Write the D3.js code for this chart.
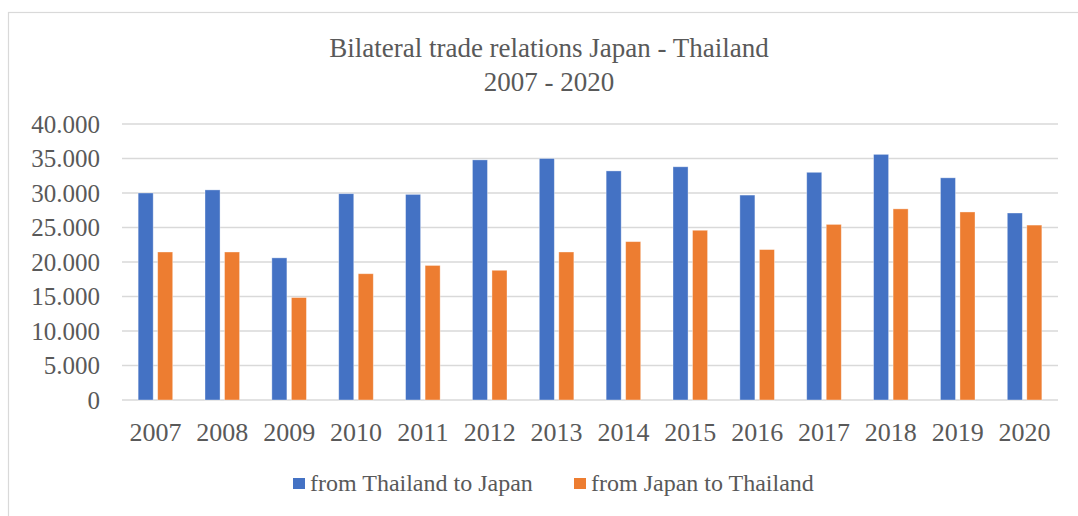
<!DOCTYPE html>
<html>
<head>
<meta charset="utf-8">
<script src="https://cdn.jsdelivr.net/npm/d3@7"></script>
<style>
  html, body { margin: 0; padding: 0; background: #fff; }
  svg { display: block; }
  text { font-family: "Liberation Serif", "Times New Roman", serif; fill: #595959; }
</style>
</head>
<body>
<svg id="chart" width="1078" height="516"></svg>
<script>
const years = ["2007","2008","2009","2010","2011","2012","2013","2014","2015","2016","2017","2018","2019","2020"];
const thailandToJapan = [30000, 30450, 20600, 29900, 29800, 34800, 35000, 33200, 33800, 29700, 33000, 35600, 32200, 27100];
const japanToThailand = [21450, 21450, 14850, 18300, 19500, 18800, 21450, 22950, 24600, 21800, 25450, 27700, 27250, 25350];
const seriesNames = ["from Thailand to Japan", "from Japan to Thailand"];
const seriesColors = ["#4472C4", "#ED7D31"];
const yTicks = [0, 5000, 10000, 15000, 20000, 25000, 30000, 35000, 40000];
const titleLines = ["Bilateral trade relations Japan - Thailand", "2007 - 2020"];

const svg = d3.select("#chart");
const W = 1078, H = 516;
const plot = { left: 122, right: 1058, top: 124, bottom: 400 };

const locale = d3.formatLocale({ decimal: ",", thousands: ".", grouping: [3], currency: ["", ""] });
const fmt = locale.format(",");

// chart frame
svg.append("rect")
  .attr("x", 8.5).attr("y", 12.5)
  .attr("width", W + 20).attr("height", H + 20)
  .attr("fill", "#fff").attr("stroke", "#d9d9d9").attr("stroke-width", 1.2);

// title
const title = svg.append("text").attr("text-anchor", "middle").style("font-size", "27px");
titleLines.forEach((t, i) => {
  title.append("tspan").attr("x", 549).attr("y", 57 + i * 34).text(t);
});

const x = d3.scaleBand().domain(years).range([plot.left, plot.right]).paddingInner(0).paddingOuter(0);
const y = d3.scaleLinear().domain([0, 40000]).range([plot.bottom, plot.top]);

// gridlines
svg.append("g")
  .selectAll("line")
  .data(yTicks)
  .join("line")
  .attr("x1", plot.left).attr("x2", plot.right)
  .attr("y1", d => y(d)).attr("y2", d => y(d))
  .attr("stroke", "#d9d9d9").attr("stroke-width", 1.5);

// y axis labels
const yAxis = d3.axisLeft(y).tickValues(yTicks).tickFormat(fmt).tickSize(0).tickPadding(0);
const gy = svg.append("g").attr("transform", `translate(100,0)`).call(yAxis);
gy.select(".domain").remove();
gy.selectAll("text").style("font-size", "25px").attr("fill", "#595959")
  .style("font-family", '"Liberation Serif", "Times New Roman", serif');

// x axis labels
const xAxis = d3.axisBottom(x).tickSize(0).tickPadding(0);
const gx = svg.append("g").attr("transform", `translate(0,${plot.bottom})`).call(xAxis);
gx.select(".domain").remove();
gx.selectAll("text").style("font-size", "26px").attr("fill", "#595959").attr("dy", null).attr("y", 41)
  .style("font-family", '"Liberation Serif", "Times New Roman", serif');

// bars
const bw = x.bandwidth();
const barW = bw * 0.225;
const gap = bw * 0.067;
const data = years.map((yr, i) => ({ yr, v: [thailandToJapan[i], japanToThailand[i]] }));
const groups = svg.append("g").selectAll("g").data(data).join("g");
groups.selectAll("rect")
  .data(d => d.v.map((v, s) => ({ yr: d.yr, v, s })))
  .join("rect")
  .attr("x", d => x(d.yr) + bw / 2 + (d.s === 0 ? -gap / 2 - barW : gap / 2))
  .attr("y", d => y(d.v))
  .attr("width", barW)
  .attr("height", d => y(0) - y(d.v))
  .attr("fill", d => seriesColors[d.s])
  .attr("stroke", "#ffffff").attr("stroke-opacity", 0.45).attr("stroke-width", 0.8);

// legend
const legendX = [293, 574];
const leg = svg.append("g");
seriesNames.forEach((n, i) => {
  leg.append("rect").attr("x", legendX[i]).attr("y", 478).attr("width", 12).attr("height", 11)
    .attr("fill", seriesColors[i]);
  leg.append("text").attr("x", legendX[i] + 17).attr("y", 491).style("font-size", "24px").text(n);
});
</script>
</body>
</html>
